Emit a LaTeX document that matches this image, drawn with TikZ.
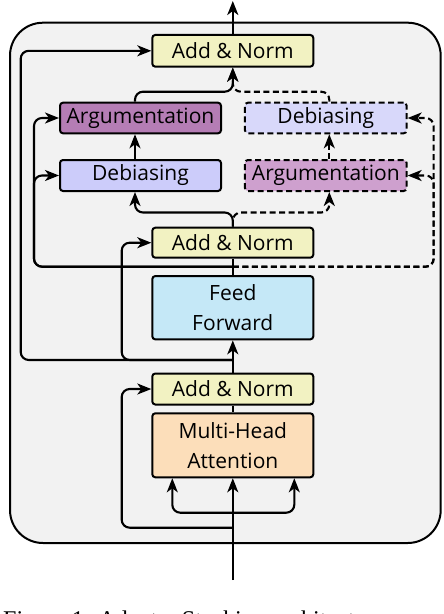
\documentclass[tikz,border=0pt]{standalone}
\usepackage{fontspec}
\setmainfont{Open Sans}
\newfontfamily\capfont{Liberation Serif}
\usetikzlibrary{arrows.meta,calc}
\definecolor{bgc}{RGB}{242,242,242}
\definecolor{anc}{RGB}{242,242,194}
\definecolor{argLc}{RGB}{181,125,181}
\definecolor{argRc}{RGB}{206,160,206}
\definecolor{debLc}{RGB}{204,204,250}
\definecolor{debRc}{RGB}{216,216,250}
\definecolor{ffc}{RGB}{197,232,247}
\definecolor{mhac}{RGB}{252,222,186}
\begin{document}
\begin{tikzpicture}[x=1pt,y=-1pt,
  box/.style={draw=black, line width=2pt, rounded corners=3pt, minimum width=161pt, inner sep=0pt, align=center, font=\fontsize{21}{30}\selectfont},
  dbox/.style={box, dash pattern=on 6pt off 3.5pt},
  con/.style={line width=2.1pt},
  arr/.style={con, -{Stealth[length=14pt,width=11pt,inset=4pt]}},
  dcon/.style={dash pattern=on 6pt off 3.5pt},
  rc/.style={rounded corners=8pt}]
\useasboundingbox (0,0) rectangle (444,614);
\draw[line width=2pt, fill=bgc, rounded corners=33pt] (10,22.7) rectangle (440.7,543);

\node[box, fill=anc, minimum height=31.7pt] (anT) at (232.8,50.8) {Add \& Norm};
\node[box, fill=argLc, minimum height=30.6pt] (argL) at (140.5,118) {Argumentation};
\node[dbox, fill=debRc, minimum height=30.6pt, minimum width=161.7pt] (debR) at (325.8,118) {Debiasing};
\node[box, fill=debLc, minimum height=31pt] (debL) at (140.5,175.5) {Debiasing};
\node[dbox, fill=argRc, minimum height=31pt, minimum width=161.7pt] (argR) at (325.8,175.5) {Argumentation};
\node[box, fill=anc, minimum height=30pt] (anM) at (232.8,242.7) {Add \& Norm};
\node[box, fill=ffc, minimum height=63.3pt] (ff) at (232.8,307.7) {Feed\\Forward};
\node[box, fill=anc, minimum height=31pt] (anB) at (232.8,389) {Add \& Norm};
\node[box, fill=mhac, minimum height=64pt] (mha) at (232.8,445.3) {Multi-Head\\Attention};

\coordinate (out) at (232.8,1);
\coordinate (in) at (232.8,580);
\coordinate (jb) at (232.8,512.7);
\coordinate (jr) at (232.8,527.7);
\coordinate (jf) at (232.8,360);
\coordinate (jm) at (232.8,266.7);
\coordinate (jt) at (232.8,91.7);

\draw[arr] (anT.north) -- (out);
\draw[arr] (in) -- (mha.south);
\draw[arr,rc] (jb) -| ($(mha.south west)+(21,0)$);
\draw[arr,rc] (jb) -| ($(mha.south east)+(-20,0)$);
\draw[arr,rc] (jr) -| ($(anB.west)+(-29.6,0)$) -- (anB.west);
\draw[con] (anB.south) -- (mha.north);
\draw[arr] (anB.north) -- (ff.south);
\draw[arr,rc] (jf) -| ($(anM.west)+(-29.6,0)$) -- (anM.west);
\draw[arr,rc] (jf) -| ($(anT.west)+(-130.6,0)$) -- (anT.west);
\draw[con] (ff.north) -- (anM.south);
\draw[arr,rc] (jm) -| ($(argL.west)+(-25,0)$) -- (argL.west);
\draw[arr,rc] (jm) -| ($(debL.west)+(-25,0)$) -- (debL.west);
\draw[arr,rc,dcon] (jm) -| ($(debR.east)+(26,0)$) -- (debR.east);
\draw[arr,rc,dcon] (jm) -| ($(argR.east)+(26,0)$) -- (argR.east);

\draw[arr,rc] (anM.north) |- ($(debL.south)+(-5.5,20.5)$) -- ($(debL.south)+(-5.5,0)$);
\draw[arr,rc,dcon] (anM.north) |- ($(argR.south)+(3.5,20.5)$) -- ($(argR.south)+(3.5,0)$);
\draw[arr] ($(debL.north)+(-5.5,0)$) -- ($(argL.south)+(-5.5,0)$);
\draw[arr,dcon] ($(argR.north)+(3.5,0)$) -- ($(debR.south)+(3.5,0)$);
\draw[arr,rc,dcon] ($(debR.north)+(3.5,0)$) |- (jt) -- (anT.south);
\draw[arr,rc] ($(argL.north)+(-5.5,0)$) |- (jt) -- (anT.south);

\node[anchor=base west, inner sep=0pt, font=\capfont\fontsize{24}{30}\selectfont] (cap) at (3,627) {Figure 1: Adapter Stacking architecture};
\end{tikzpicture}
\end{document}
